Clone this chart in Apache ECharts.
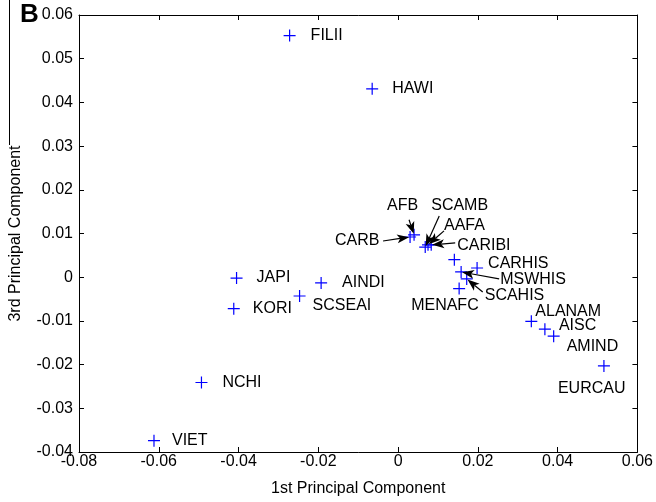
<!DOCTYPE html>
<html>
<head>
<meta charset="utf-8">
<script src="https://cdn.jsdelivr.net/npm/echarts@6/dist/echarts.min.js"></script>
<style>
  html, body { margin: 0; padding: 0; background: #fff; }
  #main { width: 656px; height: 502px; }
</style>
</head>
<body>
<div id="main"></div>
<script>
// groups (labels) and their 1st / 3rd principal component scores
var names = ['FILII', 'HAWI', 'NCHI', 'VIET', 'JAPI', 'KORI', 'SCSEAI', 'AINDI',
    'CARB', 'AFB', 'SCAMB', 'AAFA', 'CARIBI', 'CARHIS', 'MSWHIS', 'SCAHIS', 'MENAFC',
    'ALANAM', 'AISC', 'AMIND', 'EURCAU', ''];
var pc1 = [-0.0272, -0.0065, -0.0493, -0.0612, -0.0405, -0.0412, -0.0247, -0.0193,
    0.0030, 0.0040, 0.0068, 0.0075, 0.0083, 0.0198, 0.0158, 0.0172, 0.0153,
    0.0334, 0.0368, 0.0390, 0.0516, 0.0141];
var pc3 = [0.0553, 0.0431, -0.0241, -0.0374, -0.0002, -0.0072, -0.0043, -0.0013,
    0.0092, 0.0097, 0.0069, 0.0074, 0.0074, 0.0021, 0.0012, -0.0004, -0.0026,
    -0.0101, -0.0119, -0.0135, -0.0203, 0.0040];

// label placement (pixel offset of text from the marker) and arrow tails
var labelOff = {
    FILII: [21, 0], HAWI: [20, 0], NCHI: [21, 0], VIET: [18, 0], JAPI: [20, 0],
    KORI: [19, 0], SCSEAI: [13, 10], AINDI: [21, 0], CARB: [-75, 4], AFB: [-27, -29],
    SCAMB: [6, -41], AAFA: [16, -19], CARIBI: [26, 1], CARHIS: [11, -4],
    MSWHIS: [39, 8], SCAHIS: [18, 17], MENAFC: [-48, 17], ALANAM: [4, -10],
    AISC: [14, -4], AMIND: [13, 10], EURCAU: [-46, 23]
};
var arrowTail = {
    CARB: [-27, 4], AFB: [-5, -15], SCAMB: [14, -31], AAFA: [16, -14],
    CARIBI: [24, -2], MSWHIS: [38, 7], SCAHIS: [16, 13]
};

var FONT = 'Liberation Sans, Arial, sans-serif';
var plus = 'path://M4.5,0H5.5V4.5H10V5.5H5.5V10H4.5V5.5H0V4.5H4.5Z';

var pts = names.map(function (n, i) {
    var o = labelOff[n] || [0, 0];
    return {
        name: n,
        value: [pc1[i], pc3[i]],
        label: { position: [o[0] + 6, o[1] + 6] }
    };
});

function fmt(v) { return String(+v.toFixed(2)); }

var baseAxis = {
    axisLine: { onZero: false, lineStyle: { color: '#000', width: 1 } },
    axisTick: { inside: true, length: 5, lineStyle: { color: '#000' } },
    splitLine: { show: false }
};

var option = {
    animation: false,
    backgroundColor: '#fff',
    grid: { left: 78, right: 18, top: 15, bottom: 48 },
    xAxis: [
        echarts.util.merge({
            type: 'value', min: -0.08, max: 0.06, interval: 0.02, position: 'bottom',
            name: '1st Principal Component', nameLocation: 'middle', nameGap: 29,
            nameTextStyle: { fontFamily: FONT, fontSize: 16, color: '#000' },
            axisLabel: { formatter: fmt, margin: 2, fontFamily: FONT, fontSize: 16, color: '#000' }
        }, baseAxis, true),
        echarts.util.merge({
            type: 'value', min: -0.08, max: 0.06, interval: 0.02, position: 'top',
            axisLabel: { show: false }
        }, baseAxis, true)
    ],
    yAxis: [
        echarts.util.merge({
            type: 'value', min: -0.04, max: 0.06, interval: 0.01, position: 'left',
            name: '3rd Principal Component', nameLocation: 'middle', nameGap: 55,
            nameTextStyle: { fontFamily: FONT, fontSize: 16, color: '#000' },
            axisLabel: { formatter: fmt, margin: 6, fontFamily: FONT, fontSize: 16, color: '#000' }
        }, baseAxis, true),
        echarts.util.merge({
            type: 'value', min: -0.04, max: 0.06, interval: 0.01, position: 'right',
            axisLabel: { show: false }
        }, baseAxis, true)
    ],
    series: [{
        type: 'scatter',
        symbol: plus,
        symbolSize: 12,
        itemStyle: { color: '#0000ff', opacity: 1 },
        label: {
            show: true,
            formatter: '{b}',
            align: 'left',
            verticalAlign: 'middle',
            fontFamily: FONT,
            fontSize: 16,
            color: '#000'
        },
        emphasis: { disabled: true },
        data: pts
    }],
    graphic: [
        { type: 'line', shape: { x1: 9.5, y1: 0, x2: 9.5, y2: 145 }, style: { stroke: '#000', lineWidth: 1 } },
        { type: 'text', left: 20, top: 2, style: { text: 'B', font: 'bold 26px ' + FONT, fill: '#000' } }
    ]
};

var chart = echarts.init(document.getElementById('main'));
chart.setOption(option);

// arrows from the crowded labels to their markers
var arrows = [];
names.forEach(function (n, i) {
    var t = arrowTail[n];
    if (!t) return;
    var p = chart.convertToPixel({ gridIndex: 0 }, [pc1[i], pc3[i]]);
    var tx = p[0] + t[0], ty = p[1] + t[1];
    var dx = p[0] - tx, dy = p[1] - ty, len = Math.sqrt(dx * dx + dy * dy);
    var ux = dx / len, uy = dy / len;
    var hx = p[0] - ux * 1, hy = p[1] - uy * 1;
    var bx = hx - ux * 12, by = hy - uy * 12;
    arrows.push({ type: 'line', shape: { x1: tx, y1: ty, x2: bx + ux * 3, y2: by + uy * 3 }, style: { stroke: '#000', lineWidth: 1.2 }, z: 10 });
    arrows.push({
        type: 'polygon', z: 10,
        shape: { points: [[hx, hy], [bx - uy * 4.5, by + ux * 4.5], [bx + ux * 3, by + uy * 3], [bx + uy * 4.5, by - ux * 4.5]] },
        style: { fill: '#000' }
    });
});
chart.setOption({ graphic: option.graphic.concat(arrows) });
</script>
</body>
</html>
